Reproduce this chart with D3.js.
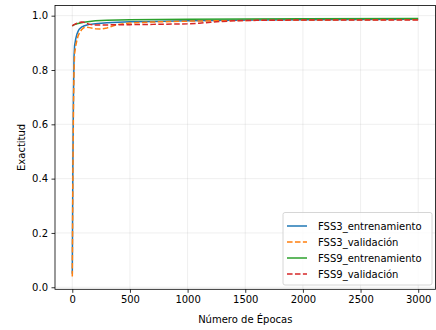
<!DOCTYPE html>
<html><head><meta charset="utf-8">
<script src="https://cdn.jsdelivr.net/npm/d3@7"></script>
<style>body{margin:0;background:#fff}svg{display:block;font-family:"DejaVu Sans",sans-serif}</style>
</head><body><svg id="c" width="436" height="330"></svg>
<script>
const seriesNames = ["FSS3_entrenamiento","FSS3_validación","FSS9_entrenamiento","FSS9_validación"];
const colors = ["#1f77b4","#ff7f0e","#2ca02c","#d62728"];
const dashed = [false,true,false,true];
const xTicks = [0,500,1000,1500,2000,2500,3000];
const yTicks = [0.0,0.2,0.4,0.6,0.8,1.0];

const fss3TrainEp = [0,5,10,15,20,30,40,50,60,80,100,120,150,200,250,300,400,500,700,1000,1200,1400,1600,2000,2500,3000];
const fss3TrainAcc = [0.05,0.45,0.70,0.85,0.89,0.915,0.932,0.942,0.95,0.958,0.962,0.965,0.968,0.970,0.972,0.974,0.976,0.978,0.979,0.981,0.982,0.983,0.984,0.985,0.986,0.987];
const fss3ValEp = [0,5,10,15,20,30,40,50,60,80,100,120,150,200,250,300,350,400,500,700,1000,1200,1400,1600,2000,2500,3000];
const fss3ValAcc = [0.04,0.40,0.66,0.80,0.86,0.89,0.91,0.925,0.935,0.948,0.956,0.958,0.956,0.952,0.951,0.955,0.962,0.968,0.973,0.977,0.980,0.981,0.982,0.983,0.984,0.985,0.986];
const fss9TrainEp = [0,10,20,40,60,80,100,150,200,300,500,1000,1500,2000,3000];
const fss9TrainAcc = [0.962,0.965,0.967,0.970,0.972,0.974,0.976,0.979,0.981,0.983,0.985,0.987,0.988,0.989,0.990];
const fss9ValEp = [0,10,20,40,60,80,100,120,150,200,300,500,700,1000,1100,1200,1300,1400,1600,2000,3000];
const fss9ValAcc = [0.962,0.966,0.968,0.972,0.975,0.977,0.976,0.972,0.968,0.966,0.966,0.967,0.968,0.970,0.972,0.976,0.979,0.981,0.983,0.984,0.984];

const series = [
  d3.zip(fss3TrainEp, fss3TrainAcc),
  d3.zip(fss3ValEp, fss3ValAcc),
  d3.zip(fss9TrainEp, fss9TrainAcc),
  d3.zip(fss9ValEp, fss9ValAcc)
];

const L=55, R=435.5, T=5.5, B=289.3;
const x = d3.scaleLinear().domain([-150,3150]).range([L,R]);
const y = d3.scaleLinear().domain([-0.0075,1.0375]).range([B,T]);
const svg = d3.select("#c");

// grid
const g = svg.append("g");
g.selectAll(".gx").data(xTicks).enter().append("line")
  .attr("x1",d=>x(d)).attr("x2",d=>x(d)).attr("y1",T).attr("y2",B)
  .attr("stroke","#b0b0b0").attr("stroke-opacity",0.25).attr("stroke-width",0.8);
g.selectAll(".gy").data(yTicks).enter().append("line")
  .attr("y1",d=>y(d)).attr("y2",d=>y(d)).attr("x1",L).attr("x2",R)
  .attr("stroke","#b0b0b0").attr("stroke-opacity",0.25).attr("stroke-width",0.8);

// lines
const line = d3.line().x(d=>x(d[0])).y(d=>y(d[1]));
series.forEach((s,i)=>{
  svg.append("path").datum(s).attr("d",line).attr("fill","none")
    .attr("stroke",colors[i]).attr("stroke-width",1.5)
    .attr("stroke-dasharray",dashed[i]?"5.55,2.4":null);
});

// axes
const xAxis = d3.axisBottom(x).tickValues(xTicks).tickSize(3.5).tickPadding(3.5).tickFormat(d3.format("d"));
const yAxis = d3.axisLeft(y).tickValues(yTicks).tickSize(3.5).tickPadding(3.5).tickFormat(d3.format(".1f"));
const ax = svg.append("g").attr("transform",`translate(0,${B})`).call(xAxis);
const ay = svg.append("g").attr("transform",`translate(${L},0)`).call(yAxis);
[ax,ay].forEach(a=>{
  a.select(".domain").remove();
  a.selectAll(".tick line").attr("stroke","#000").attr("stroke-width",0.8);
  a.selectAll(".tick text").attr("fill","#000").attr("font-size",10).attr("font-family","DejaVu Sans");
});
svg.append("rect").attr("x",L).attr("y",T).attr("width",R-L).attr("height",B-T)
  .attr("fill","none").attr("stroke","#000").attr("stroke-width",0.8);

svg.append("text").attr("x",(L+R)/2).attr("y",323).attr("text-anchor","middle")
  .attr("font-size",10).text("Número de Épocas");
svg.append("text").attr("transform",`translate(25,${(T+B)/2}) rotate(-90)`).attr("text-anchor","middle")
  .attr("font-size",10).text("Exactitud");

// legend
const lg = svg.append("g");
lg.append("rect").attr("x",283).attr("y",212.5).attr("width",149).attr("height",72.5).attr("rx",2)
  .attr("fill","#fff").attr("fill-opacity",0.8).attr("stroke","#cccccc").attr("stroke-width",0.8);
seriesNames.forEach((n,i)=>{
  const yy = 226 + i*16;
  lg.append("line").attr("x1",287).attr("x2",307).attr("y1",yy).attr("y2",yy)
    .attr("stroke",colors[i]).attr("stroke-width",1.5).attr("stroke-dasharray",dashed[i]?"5.55,2.4":null);
  lg.append("text").attr("x",318).attr("y",yy+3.5).attr("font-size",10).text(n);
});
</script></body></html>
